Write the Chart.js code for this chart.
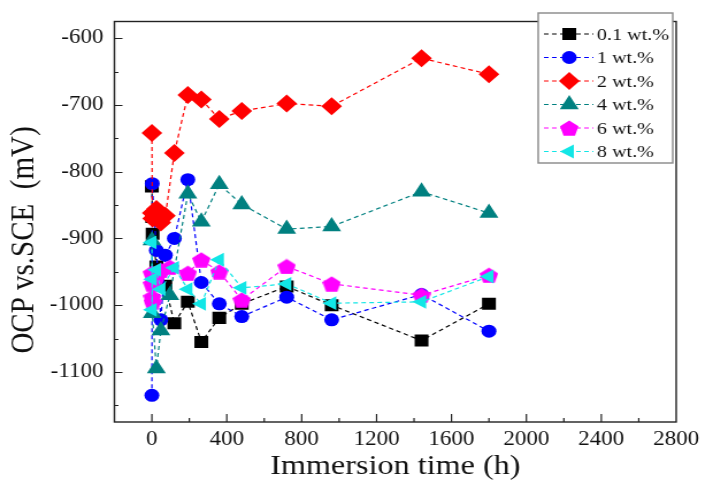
<!DOCTYPE html>
<html>
<head>
<meta charset="utf-8">
<script src="https://cdn.jsdelivr.net/npm/chart.js@4/dist/chart.umd.min.js"></script>
<style>
  body { margin: 0; background: #fff; overflow: hidden; }
  /* la figura original está estirada en horizontal (~1.15) */
  #ocpChart { transform: scaleX(1.15); transform-origin: 0 0; display: block; }
</style>
</head>
<body>
<canvas id="ocpChart" width="614" height="494"></canvas>
<script>
// Tiempos de inmersión (h) y potencial OCP (mV vs SCE)
const hours01 = [0, 2, 4, 24, 72, 120, 192, 264, 360, 480, 720, 960, 1440, 1800];
const ocp01 = [-822, -868, -893, -942, -971, -1027, -995, -1055, -1019, -998, -972, -1000, -1053, -998];

const hours1 = [0, 2, 24, 48, 72, 120, 192, 264, 360, 480, 720, 960, 1440, 1800];
const ocp1 = [-1135, -818, -918, -1022, -925, -900, -812, -966, -998, -1017, -988, -1022, -984, -1039];

const hours2 = [0, 2, 4, 24, 48, 72, 120, 192, 264, 360, 480, 720, 960, 1440, 1800];
const ocp2 = [-742, -862, -870, -856, -876, -866, -772, -685, -692, -721, -709, -698, -702, -630, -654];

const hours4 = [0, 2, 24, 48, 96, 192, 264, 360, 480, 720, 960, 1440, 1800];
const ocp4 = [-903, -1012, -1095, -1038, -985, -833, -875, -819, -849, -886, -882, -830, -862];

const hours6 = [0, 1, 2, 4, 24, 48, 96, 192, 264, 360, 480, 720, 960, 1440, 1800];
const ocp6 = [-952, -968, -988, -995, -958, -948, -943, -952, -932, -950, -992, -942, -968, -985, -955];

const hours8 = [0, 1, 2, 24, 48, 120, 192, 264, 360, 480, 720, 960, 1440, 1800];
const ocp8 = [-906, -1007, -961, -947, -976, -944, -976, -998, -932, -974, -968, -997, -995, -957];

const seriesLabels = ["0.1 wt.%", "1 wt.%", "2 wt.%", "4 wt.%", "6 wt.%", "8 wt.%"];

const yTicks = [-1100, -1000, -900, -800, -700, -600];
const xTicks = [0, 400, 800, 1200, 1600, 2000, 2400, 2800];

const serif = "'Liberation Serif', 'Times New Roman', serif";

// Pentágono para la serie de 6 wt.%
function pentagon(size, color) {
  const c = document.createElement("canvas");
  c.width = size;
  c.height = size;
  const g = c.getContext("2d");
  const r = size / 1.9;
  const cy = size / 2 + r * 0.1;
  g.beginPath();
  for (let i = 0; i < 5; i++) {
    const a = -Math.PI / 2 + (i * 2 * Math.PI) / 5;
    const px = size / 2 + r * Math.cos(a);
    const py = cy + r * Math.sin(a);
    if (i === 0) g.moveTo(px, py);
    else g.lineTo(px, py);
  }
  g.closePath();
  g.fillStyle = color;
  g.fill();
  return c;
}

function toPoints(hours, values) {
  return hours.map((h, i) => ({ x: h, y: values[i] }));
}

const styles = [
  { color: "#000000", pointStyle: "rect", radius: 8.5, rotation: 0 },
  { color: "#0000ff", pointStyle: "circle", radius: 6.5, rotation: 0 },
  { color: "#ff0000", pointStyle: "rectRot", radius: 9, rotation: 0 },
  { color: "#008080", pointStyle: "triangle", radius: 9.5, rotation: 0 },
  { color: "#ff00ff", pointStyle: pentagon(16, "#ff00ff"), radius: 8, rotation: 0 },
  { color: "#12e6e6", pointStyle: "triangle", radius: 8, rotation: -90 },
];

const allData = [
  toPoints(hours01, ocp01),
  toPoints(hours1, ocp1),
  toPoints(hours2, ocp2),
  toPoints(hours4, ocp4),
  toPoints(hours6, ocp6),
  toPoints(hours8, ocp8),
];

const datasets = allData.map((pts, i) => ({
  label: seriesLabels[i],
  data: pts,
  borderColor: styles[i].color,
  backgroundColor: styles[i].color,
  borderWidth: 1.2,
  borderDash: [4, 3],
  pointStyle: styles[i].pointStyle,
  pointRadius: styles[i].radius,
  pointRotation: styles[i].rotation,
  pointBorderWidth: 0,
  tension: 0,
  order: 5 - i, // las últimas series quedan encima
}));

// Marco, ticks interiores, título del eje Y y leyenda
const framePlugin = {
  id: "frame",
  afterDraw(chart) {
    const { ctx, chartArea: a } = chart;
    const xs = chart.scales.x;
    const ys = chart.scales.y;
    ctx.save();
    ctx.strokeStyle = "#222";
    ctx.lineWidth = 1.4;
    ctx.strokeRect(a.left, a.top, a.right - a.left, a.bottom - a.top);

    ctx.lineWidth = 1.2;
    ctx.beginPath();
    for (let v = 0; v < xs.max; v += 200) {
      const px = xs.getPixelForValue(v);
      const len = v % 400 === 0 ? 8 : 4;
      ctx.moveTo(px, a.bottom);
      ctx.lineTo(px, a.bottom - len);
    }
    for (let v = -1150; v < ys.max; v += 50) {
      const py = Math.round(ys.getPixelForValue(v)) + 0.5;
      const len = v % 100 === 0 ? 7 : 3.5;
      ctx.moveTo(a.left, py);
      ctx.lineTo(a.left + len, py);
    }
    ctx.stroke();

    // título del eje Y
    ctx.save();
    ctx.translate(21, 240);
    ctx.rotate(-Math.PI / 2);
    ctx.fillStyle = "#111";
    ctx.font = "29px " + serif;
    ctx.textAlign = "center";
    ctx.textBaseline = "middle";
    ctx.fillText("OCP vs.SCE  (mV)", 0, 0);
    ctx.restore();

    // leyenda
    const bx = 468, by = 13, bw = 117, bh = 150;
    ctx.fillStyle = "#fff";
    ctx.fillRect(bx, by, bw, bh);
    ctx.strokeStyle = "#888";
    ctx.lineWidth = 1.4;
    ctx.strokeRect(bx, by, bw, bh);
    chart.data.datasets.forEach((ds, i) => {
      const y = 34 + i * 23.5;
      ctx.strokeStyle = ds.borderColor;
      ctx.lineWidth = 1.2;
      ctx.setLineDash([4, 3]);
      ctx.beginPath();
      ctx.moveTo(473, y);
      ctx.lineTo(516, y);
      ctx.stroke();
      ctx.setLineDash([]);
      ctx.fillStyle = ds.backgroundColor;
      Chart.helpers.drawPoint(ctx, {
        pointStyle: ds.pointStyle,
        radius: ds.pointRadius,
        rotation: ds.pointRotation,
        borderWidth: 0,
      }, 495, y);
      ctx.fillStyle = "#111";
      ctx.font = "17.5px " + serif;
      ctx.textBaseline = "middle";
      ctx.textAlign = "left";
      ctx.fillText(ds.label, 519, y + 1);
    });
    ctx.restore();
  },
};

const ctx = document.getElementById("ocpChart").getContext("2d");
const ocpChart = new Chart(ctx, {
  type: "line",
  data: { datasets: datasets },
  options: {
    responsive: false,
    animation: false,
    layout: { padding: { top: 10, right: 24, left: 0, bottom: 0 } },
    plugins: {
      legend: { display: false },
      tooltip: { enabled: false },
    },
    scales: {
      x: {
        type: "linear",
        min: -200,
        max: 2800,
        grid: { display: false, drawTicks: false },
        border: { display: false },
        afterBuildTicks: (s) => { s.ticks = xTicks.map((v) => ({ value: v })); },
        afterFit: (s) => { s.height = 72; },
        ticks: {
          color: "#111",
          padding: 6,
          maxRotation: 0,
          autoSkip: false,
          font: { family: serif, size: 20 },
          callback: (v) => String(v),
        },
        title: {
          display: true,
          text: "Immersion time (h)",
          color: "#111",
          font: { family: serif, size: 28 },
          padding: { top: 0, bottom: 11 },
        },
      },
      y: {
        type: "linear",
        min: -1175,
        max: -575,
        grid: { display: false, drawTicks: false },
        border: { display: false },
        afterBuildTicks: (s) => { s.ticks = yTicks.map((v) => ({ value: v })); },
        afterFit: (s) => { s.width = 99.5; },
        ticks: {
          color: "#111",
          padding: 9.5,
          autoSkip: false,
          font: { family: serif, size: 20 },
          callback: (v) => String(v),
        },
      },
    },
  },
  plugins: [framePlugin],
});
</script>
</body>
</html>
